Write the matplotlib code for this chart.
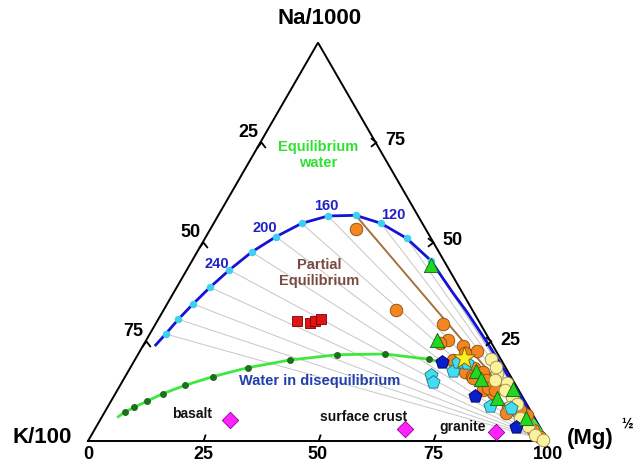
import matplotlib
matplotlib.use('Agg')
import matplotlib.pyplot as plt
from matplotlib.path import Path
import numpy as np

plt.rcParams['font.family'] = ['Liberation Sans', 'DejaVu Sans']

# full equilibrium curve, Na and Mg in % of the ternary (K = 100 - Na - Mg)
eq_na = [24.1, 26.86, 30.55, 34.39, 38.58, 42.92, 47.44, 51.28, 54.64, 56.48,
         56.65, 54.64, 50.88, 45.26, 41.16, 37.15, 32.38, 24.92, 11.55, 3.0]
eq_mg = [2.67, 3.46, 4.36, 5.63, 7.23, 9.26, 11.87, 15.23, 19.14, 23.93,
         29.87, 36.38, 43.84, 51.94, 56.38, 60.78, 66.2, 74.21, 88.14, 96.7]
eq_temp = [None, 320, 300, 280, 260, 240, 220, 200, 180, 160,
           140, 120, 100, 80, 60, 40, 20, None, None, None]
labelled_temps = [240, 200, 160, 120]
dotted_min_temp = 80
highlight_temp = 140

# immature water line
im_na = [6.10, 7.28, 8.46, 9.96, 11.87, 13.98, 16.14, 18.40, 20.33, 21.66,
         21.84, 20.51, 17.07, 7.78, 0.0]
im_mg = [3.54, 4.40, 5.84, 7.78, 10.30, 14.10, 19.04, 25.52, 33.74, 43.37,
         53.65, 63.95, 76.69, 91.54, 100.0]
im_dot = [False, True, True, True, True, True, True, True, True, True,
          True, True, False, False, False]

# samples
orange_na = [53.21, 32.88, 29.37, 25.35, 24.60, 23.85, 22.59, 20.33, 19.08, 18.32,
             17.32, 17.32, 15.31, 12.80, 12.05, 13.30, 8.28, 7.03, 7.28, 6.53,
             5.27, 2.76, 1.00, 22.09, 12.80, 16.32, 7.78, 15.81]
orange_mg = [31.59, 50.52, 62.49, 65.58, 64.22, 69.60, 73.27, 69.18, 72.85, 74.75,
             73.30, 77.21, 78.86, 79.47, 82.02, 80.31, 87.16, 87.36, 89.84, 92.17,
             91.71, 95.36, 97.76, 70.92, 82.08, 75.32, 90.02, 75.79]
yellow_na = [20.58, 17.07, 15.31, 14.56, 11.04, 12.80, 8.53, 5.77, 3.77, 1.51, 0.25, 18.57, 9.29]
yellow_mg = [77.32, 80.38, 80.82, 83.81, 86.65, 84.25, 87.47, 91.02, 93.77, 96.42, 98.79, 79.41, 88.62]
cyan_na = [16.57, 14.81, 17.57, 19.83, 19.58, 8.79, 8.28]
cyan_mg = [66.29, 67.60, 70.56, 70.52, 72.60, 83.00, 87.82]
blue_na = [19.83, 11.30, 3.51]
blue_mg = [67.05, 78.48, 91.28]
tri_na = [44.18, 25.35, 17.57, 15.56, 13.05, 10.79, 5.77]
tri_mg = [52.48, 63.19, 75.56, 77.65, 85.86, 83.51, 92.33]
red_na = [30.0, 29.62, 30.0, 30.5]
red_mg = [30.33, 33.45, 34.35, 35.51]
star_na = [20.83]
star_mg = [71.32]
rock_names = ['basalt', 'surface crust', 'granite']
rock_na = [5.27, 3.01, 2.26]
rock_mg = [28.23, 67.4, 87.57]

ticks = [25, 50, 75]
bottom_ticks = [0, 25, 50, 75, 100]

H = np.sqrt(3) / 2


def tern(na, mg):
    na = np.asarray(na, dtype=float) / 100.0
    mg = np.asarray(mg, dtype=float) / 100.0
    return mg + na / 2.0, na * H


fig = plt.figure(figsize=(6.44, 4.65), dpi=100)
ax = fig.add_axes([0, 0, 1, 1])
ax.set_xlim(-88 / 460, 556 / 460)
ax.set_ylim(-24 / 460, 441 / 460)
ax.set_aspect('equal')
ax.axis('off')

# triangle frame
fx, fy = tern([0, 0, 100, 0], [0, 100, 0, 0])
ax.plot(fx, fy, color='black', lw=1.4, zorder=3, solid_joinstyle='miter')

# tick marks
chev_up = Path([(-1, -1.3), (0, 0), (1, -1.3)], [Path.MOVETO, Path.LINETO, Path.LINETO])
chev_right = Path([(-1.3, 1), (0, 0), (-1.3, -1)], [Path.MOVETO, Path.LINETO, Path.LINETO])
slash = Path([(0, 0), (0.45, 1.4)], [Path.MOVETO, Path.LINETO])
lx, ly = tern([100 - t for t in ticks], [0] * 3)
ax.plot(lx, ly, ls='none', marker=chev_up, ms=8, mfc='none', mec='black', mew=1.3, zorder=4)
rx, ry = tern(ticks, [100 - t for t in ticks])
ax.plot(rx, ry, ls='none', marker=chev_right, ms=8, mfc='none', mec='black', mew=1.3, zorder=4)
bx, by = tern([0] * 3, ticks)
ax.plot(bx, by, ls='none', marker=slash, ms=10, mfc='none', mec='black', mew=1.3, zorder=4)

tick_font = dict(fontsize=13, fontweight='bold', color='black')
for t, x, y in zip(ticks, lx, ly):
    ax.annotate(str(t), (x, y), xytext=(-9, 7), textcoords='offset points',
                ha='center', va='center', **tick_font)
for t, x, y in zip(ticks, rx, ry):
    ax.annotate(str(t), (x, y), xytext=(14, 1), textcoords='offset points',
                ha='center', va='center', **tick_font)
for t in bottom_ticks:
    x, y = tern(0, t)
    ax.annotate(str(t), (x, y), xytext=(0, -10), textcoords='offset points',
                ha='center', va='center', **tick_font)

# corner labels
ax.text((320 - 88) / 460, (441 - 18) / 460, 'Na/1000', ha='center', va='center',
        fontsize=16, fontweight='bold')
ax.text((42 - 88) / 460, (441 - 437) / 460, 'K/100', ha='center', va='center',
        fontsize=16, fontweight='bold')
ax.text((590 - 88) / 460, (441 - 438) / 460, '(Mg)', ha='center', va='center',
        fontsize=16, fontweight='bold')
ax.text((627 - 88) / 460, (441 - 424) / 460, '½', ha='center', va='center',
        fontsize=10, fontweight='bold')

# fan lines from the Mg corner through the equilibrium curve
cx, cy = tern(0, 100)
ex, ey = tern(eq_na, eq_mg)
for t, x, y in zip(eq_temp, ex, ey):
    if t is None:
        continue
    ax.plot([x, cx], [y, cy], color='#c6c6c6', lw=0.7, zorder=1)
    if t == highlight_temp:
        ax.plot([x, cx], [y, cy], color='#a8713f', lw=1.4, zorder=2)

# equilibrium curve
ax.plot(ex, ey, color='#1414d4', lw=2.0, zorder=3)
dx = [x for t, x in zip(eq_temp, ex) if t is not None and t >= dotted_min_temp]
dy = [y for t, y in zip(eq_temp, ey) if t is not None and t >= dotted_min_temp]
ax.plot(dx, dy, ls='none', marker='o', ms=4.4, mfc='#3ed0f2', mec='#3ed0f2', zorder=4)
temp_offsets = {240: (-9, 4.5), 200: (-8, 6.5), 160: (-1.5, 7.5), 120: (8.5, 6)}
for t, x, y in zip(eq_temp, ex, ey):
    if t in labelled_temps:
        ax.annotate(str(t), (x, y), xytext=temp_offsets[t], textcoords='offset points',
                    ha='center', va='center', fontsize=10.5, fontweight='bold', color='#2020c8')

# immature water line
ix, iy = tern(im_na, im_mg)
ax.plot(ix, iy, color='#3ee83e', lw=2.0, zorder=3)
ax.plot([x for x, d in zip(ix, im_dot) if d], [y for y, d in zip(iy, im_dot) if d],
        ls='none', marker='o', ms=4.0, mfc='#1d6e1d', mec='#1d6e1d', zorder=4)

# region labels
ax.text((318 - 88) / 460, (441 - 155) / 460, 'Equilibrium\nwater', ha='center', va='center',
        fontsize=10.5, fontweight='bold', color='#30e030', linespacing=1.1)
ax.text((319 - 88) / 460, (441 - 273) / 460, 'Partial\nEquilibrium', ha='center', va='center',
        fontsize=10.5, fontweight='bold', color='#7b4a40', linespacing=1.1)
ax.text((320 - 88) / 460, (441 - 381) / 460, 'Water in disequilibrium', ha='center',
        va='center', fontsize=10.5, fontweight='bold', color='#2040a8')

# samples
sx, sy = tern(orange_na, orange_mg)
ax.scatter(sx, sy, s=82, marker='o', c='#f3861e', edgecolors='#8a4a12', linewidths=0.6, zorder=5)
sx, sy = tern(yellow_na, yellow_mg)
ax.scatter(sx, sy, s=82, marker='o', c='#fbf29c', edgecolors='#9a8a55', linewidths=0.6, zorder=6)
sx, sy = tern(cyan_na, cyan_mg)
ax.scatter(sx, sy, s=100, marker='p', c='#40def0', edgecolors='#1f6f80', linewidths=0.6, zorder=7)
sx, sy = tern(blue_na, blue_mg)
ax.scatter(sx, sy, s=100, marker='p', c='#0a1ec8', edgecolors='#00005a', linewidths=0.6, zorder=7)
sx, sy = tern(tri_na, tri_mg)
ax.scatter(sx, sy, s=105, marker='^', c='#22d622', edgecolors='#0f5f0f', linewidths=0.6, zorder=8)
sx, sy = tern(red_na, red_mg)
ax.scatter(sx, sy, s=62, marker='s', c='#e01414', edgecolors='#7a0000', linewidths=0.6, zorder=8)
sx, sy = tern(star_na, star_mg)
ax.scatter(sx, sy, s=280, marker='*', c='#ffee22', edgecolors='#7a5a00', linewidths=0.6, zorder=9)
sx, sy = tern(rock_na, rock_mg)
ax.scatter(sx, sy, s=70, marker='D', c='#ff22ff', edgecolors='#8a008a', linewidths=0.6, zorder=8)
rock_offsets = {'basalt': (-27, 4.5), 'surface crust': (-30, 8.5), 'granite': (-24, 3.5)}
for name, x, y in zip(rock_names, sx, sy):
    ax.annotate(name, (x, y), xytext=rock_offsets[name], textcoords='offset points',
                ha='center', va='center', fontsize=10, fontweight='bold', color='#111111')

fig.savefig('out.png', dpi=100)
plt.close(fig)
